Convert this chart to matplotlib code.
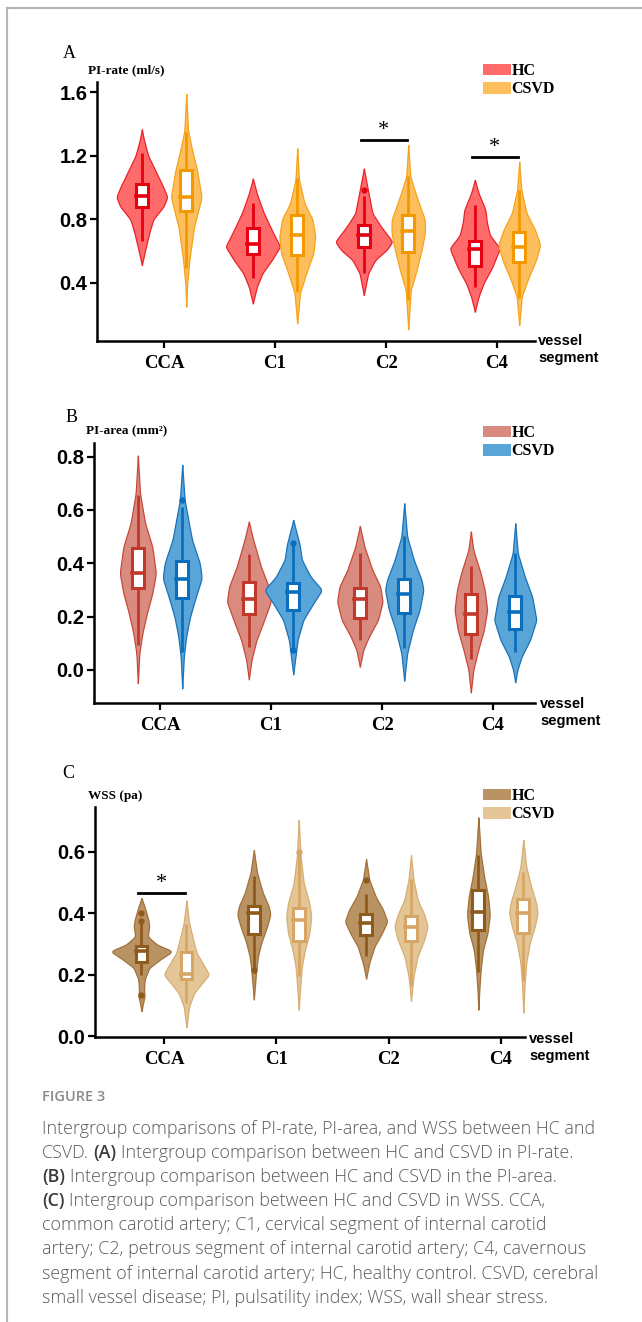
import numpy as np
import matplotlib
matplotlib.use("Agg")
import matplotlib.pyplot as plt
from matplotlib.patches import Rectangle, Patch
from matplotlib.lines import Line2D

# ---- data ----
CATS = ["CCA", "C1", "C2", "C4"]
GROUPS = ["HC", "CSVD"]

# boxes: [whisker low, q1, median, q3, whisker high]
A_HC_BOX = [[0.66, 0.88, 0.947, 1.023, 1.22], [0.428, 0.582, 0.645, 0.747, 0.90],
            [0.46, 0.628, 0.70, 0.764, 0.947], [0.376, 0.506, 0.611, 0.663, 0.888]]
A_CSVD_BOX = [[0.49, 0.853, 0.943, 1.111, 1.35], [0.344, 0.575, 0.70, 0.827, 1.058],
              [0.292, 0.592, 0.729, 0.827, 1.073], [0.302, 0.533, 0.628, 0.722, 0.985]]
B_HC_BOX = [[0.094, 0.309, 0.3625, 0.456, 0.656], [0.0875, 0.209, 0.265, 0.331, 0.434],
            [0.1125, 0.196, 0.265, 0.306, 0.4375], [0.04, 0.134, 0.21, 0.284, 0.39]]
B_CSVD_BOX = [[0.069, 0.269, 0.34, 0.41, 0.6125], [0.075, 0.225, 0.294, 0.325, 0.475],
              [0.081, 0.215, 0.285, 0.34, 0.5025], [0.069, 0.1525, 0.219, 0.279, 0.4375]]
C_HC_BOX = [[0.2, 0.24, 0.276, 0.292, 0.376], [0.205, 0.332, 0.40, 0.422, 0.519],
            [0.26, 0.328, 0.368, 0.397, 0.462], [0.208, 0.344, 0.405, 0.474, 0.589]]
C_CSVD_BOX = [[0.108, 0.186, 0.202, 0.272, 0.365], [0.195, 0.308, 0.378, 0.418, 0.605],
              [0.162, 0.308, 0.354, 0.389, 0.51], [0.178, 0.335, 0.40, 0.445, 0.535]]

# outlier dots
A_HC_OUT = [[], [], [0.985], []]
A_CSVD_OUT = [[], [], [], []]
B_HC_OUT = [[], [], [], []]
B_CSVD_OUT = [[0.6375], [0.475, 0.075], [], []]
C_HC_OUT = [[0.40, 0.375, 0.135], [0.215], [0.508], []]
C_CSVD_OUT = [[], [0.60], [], []]

# violin outlines: y knots and relative half-widths
A_HC_Y = [[0.512, 0.62, 0.72, 0.80, 0.88, 0.94, 1.00, 1.10, 1.20, 1.30, 1.367],
          [0.27, 0.376, 0.46, 0.544, 0.628, 0.73, 0.84, 0.96, 1.056],
          [0.323, 0.46, 0.544, 0.607, 0.659, 0.754, 0.838, 1.006, 1.12],
          [0.218, 0.313, 0.397, 0.50, 0.617, 0.70, 0.78, 0.86, 0.964, 1.048]]
A_HC_W = [[0, 0.15, 0.3, 0.45, 0.85, 1.0, 0.85, 0.55, 0.25, 0.08, 0],
          [0, 0.15, 0.35, 0.7, 1.0, 0.7, 0.4, 0.15, 0],
          [0, 0.15, 0.4, 0.8, 1.0, 0.6, 0.3, 0.12, 0],
          [0, 0.15, 0.35, 0.7, 1.0, 0.6, 0.48, 0.42, 0.15, 0]]
A_CSVD_Y = [[0.25, 0.38, 0.54, 0.75, 0.94, 1.11, 1.25, 1.36, 1.59],
            [0.144, 0.334, 0.46, 0.586, 0.69, 0.80, 0.90, 1.048, 1.247],
            [0.107, 0.355, 0.46, 0.607, 0.712, 0.796, 0.943, 1.07, 1.268],
            [0.134, 0.313, 0.418, 0.544, 0.638, 0.733, 0.838, 0.985, 1.163]]
A_CSVD_W = [[0, 0.05, 0.2, 0.5, 1.0, 0.7, 0.35, 0.12, 0],
            [0, 0.15, 0.5, 0.9, 1.0, 0.85, 0.4, 0.1, 0],
            [0, 0.15, 0.45, 0.8, 1.0, 1.0, 0.5, 0.12, 0],
            [0, 0.12, 0.4, 0.8, 1.0, 0.75, 0.35, 0.1, 0]]
B_HC_Y = [[-0.05, 0.0625, 0.1375, 0.2125, 0.2875, 0.3625, 0.4625, 0.55, 0.662, 0.804],
          [-0.035, 0.0375, 0.1125, 0.1875, 0.256, 0.3125, 0.3875, 0.4875, 0.556],
          [0.0125, 0.075, 0.125, 0.1875, 0.256, 0.3125, 0.375, 0.4625, 0.54],
          [-0.084, 0.0, 0.075, 0.15, 0.225, 0.3, 0.3625, 0.45, 0.519]]
B_HC_W = [[0, 0.08, 0.25, 0.5, 0.8, 1.0, 0.8, 0.4, 0.12, 0],
          [0, 0.12, 0.35, 0.7, 1.0, 0.9, 0.55, 0.2, 0],
          [0, 0.15, 0.4, 0.8, 1.0, 0.9, 0.55, 0.2, 0],
          [0, 0.15, 0.45, 0.8, 1.0, 0.85, 0.6, 0.15, 0]]
B_CSVD_Y = [[-0.069, 0.05, 0.125, 0.2, 0.275, 0.344, 0.40, 0.4875, 0.6375, 0.769],
            [-0.016, 0.1125, 0.1875, 0.25, 0.30, 0.35, 0.4125, 0.47, 0.5625],
            [-0.04, 0.0625, 0.15, 0.225, 0.30, 0.3375, 0.4125, 0.50, 0.625],
            [-0.046, 0.0, 0.05, 0.1125, 0.1875, 0.275, 0.35, 0.4375, 0.55]]
B_CSVD_W = [[0, 0.08, 0.2, 0.4, 0.7, 1.0, 0.9, 0.5, 0.12, 0],
            [0, 0.15, 0.35, 0.7, 1.0, 0.6, 0.3, 0.22, 0],
            [0, 0.15, 0.45, 0.8, 1.0, 0.9, 0.5, 0.15, 0],
            [0, 0.1, 0.3, 0.7, 1.0, 0.8, 0.45, 0.12, 0]]
C_HC_Y = [[0.081, 0.108, 0.13, 0.151, 0.184, 0.222, 0.249, 0.276, 0.297, 0.324, 0.357, 0.378, 0.42, 0.449],
          [0.119, 0.184, 0.216, 0.26, 0.303, 0.357, 0.395, 0.422, 0.465, 0.53, 0.605],
          [0.187, 0.238, 0.292, 0.335, 0.373, 0.411, 0.454, 0.508, 0.576],
          [0.086, 0.151, 0.216, 0.281, 0.335, 0.395, 0.454, 0.519, 0.595, 0.711]]
C_HC_W = [[0, 0.05, 0.1, 0.08, 0.1, 0.25, 0.6, 1.0, 0.5, 0.2, 0.25, 0.22, 0.1, 0],
          [0, 0.1, 0.15, 0.25, 0.45, 0.8, 1.0, 0.9, 0.55, 0.2, 0],
          [0, 0.15, 0.4, 0.75, 1.0, 0.8, 0.45, 0.15, 0],
          [0, 0.08, 0.2, 0.4, 0.8, 1.0, 0.85, 0.5, 0.2, 0]]
C_CSVD_Y = [[0.029, 0.097, 0.141, 0.173, 0.2, 0.227, 0.27, 0.313, 0.368, 0.441],
            [0.086, 0.162, 0.227, 0.281, 0.335, 0.389, 0.432, 0.497, 0.584, 0.703],
            [0.114, 0.195, 0.26, 0.314, 0.357, 0.395, 0.443, 0.508, 0.589],
            [0.076, 0.162, 0.238, 0.303, 0.357, 0.40, 0.432, 0.486, 0.551, 0.638]]
C_CSVD_W = [[0, 0.12, 0.35, 0.7, 1.0, 0.8, 0.45, 0.3, 0.12, 0],
            [0, 0.12, 0.25, 0.5, 0.85, 1.0, 0.85, 0.4, 0.15, 0],
            [0, 0.15, 0.4, 0.8, 1.0, 0.8, 0.4, 0.15, 0],
            [0, 0.08, 0.2, 0.45, 0.8, 1.0, 0.9, 0.55, 0.2, 0]]

# full violin widths (category units)
A_HC_SIZE = [0.45, 0.48, 0.50, 0.44]
A_CSVD_SIZE = [0.27, 0.32, 0.30, 0.37]
B_HC_SIZE = [0.32, 0.39, 0.405, 0.29]
B_CSVD_SIZE = [0.345, 0.50, 0.34, 0.375]
C_HC_SIZE = [0.52, 0.29, 0.37, 0.20]
C_CSVD_SIZE = [0.39, 0.22, 0.29, 0.25]

# significance marks: (category index, bar height)
A_SIG = [(2, 1.30), (3, 1.195)]
B_SIG = []
C_SIG = [(0, 0.465)]

SERIF = "Liberation Serif"
SANS = "Liberation Sans"
W, H = 642, 1322

fig = plt.figure(figsize=(W / 100, H / 100), dpi=100)


def fx(px):
    return px / W


def fy(py):
    return 1 - py / H


def outline(ys, ws):
    grid = np.linspace(ys[0], ys[-1], 400)
    w = np.interp(grid, ys, ws)
    k = np.hanning(25)
    k /= k.sum()
    w = np.convolve(np.pad(w, 12), k, mode="valid")
    return grid, w / w.max()


def panel(rect, xlim, ylim, yticks, ylabels, data, colors, sig, letter, ylab, letter_pos,
          ylab_pos, legend_pos, vessel_pos):
    ax = fig.add_axes(rect)
    for gi, (vy, vw, size, box, outs) in enumerate(data):
        fill, edge, bcol = colors[gi]
        off = -0.2 if gi == 0 else 0.2
        for ci in range(len(CATS)):
            x = ci + off
            g, w = outline(vy[ci], vw[ci])
            half = size[ci] / 2 * w
            ax.fill_betweenx(g, x - half, x + half, facecolor=fill, edgecolor=edge,
                             linewidth=0.9, zorder=2 + gi, clip_on=False)
            lo, q1, med, q3, hi = box[ci]
            ax.plot([x, x], [lo, hi], color=bcol, lw=2.0, zorder=4 + gi,
                    solid_capstyle="butt", clip_on=False)
            bw = 0.105
            ax.add_patch(Rectangle((x - bw / 2, q1), bw, q3 - q1, facecolor="white",
                                   edgecolor=bcol, lw=2.2, zorder=5 + gi, clip_on=False))
            ax.plot([x - bw / 2, x + bw / 2], [med, med], color=bcol, lw=2.6, zorder=6 + gi,
                    clip_on=False)
            for o in outs[ci]:
                ax.plot(x, o, "o", ms=3.5, color=bcol, zorder=6 + gi, clip_on=False)
    for ci, yb in sig:
        ax.plot([ci - 0.23, ci + 0.19], [yb, yb], color="black", lw=2.0, zorder=8)
        ax.text(ci - 0.02, yb, "*", ha="center", va="bottom", fontsize=16,
                family=SERIF, zorder=8)

    ax.set_xlim(*xlim)
    ax.set_ylim(*ylim)
    ax.set_xticks(range(len(CATS)))
    ax.set_xticklabels(CATS, family=SERIF, fontweight="bold", fontsize=13.5)
    ax.set_yticks(yticks)
    ax.set_yticklabels(ylabels, family=SANS, fontweight="bold", fontsize=14.5)
    for s in ["top", "right"]:
        ax.spines[s].set_visible(False)
    for s in ["left", "bottom"]:
        ax.spines[s].set_linewidth(1.8)
    ax.tick_params(axis="both", direction="out", length=5, width=1.6, pad=2)
    ax.tick_params(axis="x", pad=5)

    fig.text(fx(letter_pos[0]), fy(letter_pos[1]), letter, family=SERIF, fontsize=13,
             ha="left", va="center")
    fig.text(fx(ylab_pos[0]), fy(ylab_pos[1]), ylab, family=SERIF, fontweight="bold",
             fontsize=9.5, ha="left", va="center")
    fig.text(fx(vessel_pos[0]), fy(vessel_pos[1]), "vessel\nsegment", family=SANS,
             fontweight="bold", fontsize=10.5, ha="left", va="top", linespacing=1.3)
    handles = [Patch(facecolor=colors[i][0], edgecolor="none") for i in range(2)]
    ax.legend(handles, GROUPS, loc="upper left", bbox_to_anchor=(fx(legend_pos[0]), fy(legend_pos[1])),
              bbox_transform=fig.transFigure, frameon=False, borderpad=0, borderaxespad=0,
              handlelength=1.75, handleheight=0.75, handletextpad=0.05, labelspacing=0.15,
              prop={"family": SERIF, "weight": "bold", "size": 11.5})
    return ax


A_COLORS = [("#FF6B6B", "#E8232B", "#E60012"), ("#FDBF5E", "#F5A31A", "#F39800")]
B_COLORS = [("#D98B80", "#C8493A", "#C0392B"), ("#5AA5D8", "#1A72B8", "#0A6EBD")]
C_COLORS = [("#B99364", "#A07239", "#8E5B1C"), ("#E3C597", "#D8AE72", "#D6A666")]

panel([fx(97), fy(341), fx(535 - 97), (341 - 82) / H], (-0.604, 3.342), (0.033, 1.665),
      [0.4, 0.8, 1.2, 1.6], ["0.4", "0.8", "1.2", "1.6"],
      [(A_HC_Y, A_HC_W, A_HC_SIZE, A_HC_BOX, A_HC_OUT),
       (A_CSVD_Y, A_CSVD_W, A_CSVD_SIZE, A_CSVD_BOX, A_CSVD_OUT)],
      A_COLORS, A_SIG, "A", "PI-rate (ml/s)", (63, 53), (88, 70), (483, 63), (538, 334))

panel([fx(94), fy(703), fx(535 - 94), (703 - 443) / H], (-0.595, 3.378), (-0.124, 0.851),
      [0.0, 0.2, 0.4, 0.6, 0.8], ["0.0", "0.2", "0.4", "0.6", "0.8"],
      [(B_HC_Y, B_HC_W, B_HC_SIZE, B_HC_BOX, B_HC_OUT),
       (B_CSVD_Y, B_CSVD_W, B_CSVD_SIZE, B_CSVD_BOX, B_CSVD_OUT)],
      B_COLORS, B_SIG, "B", "PI-area (mm²)", (66, 417), (86, 431), (483, 425), (540, 697))

panel([fx(95), fy(1037), fx(525 - 95), (1037 - 807) / H], (-0.614, 3.215), (-0.003, 0.745),
      [0.0, 0.2, 0.4, 0.6], ["0.0", "0.2", "0.4", "0.6"],
      [(C_HC_Y, C_HC_W, C_HC_SIZE, C_HC_BOX, C_HC_OUT),
       (C_CSVD_Y, C_CSVD_W, C_CSVD_SIZE, C_CSVD_BOX, C_CSVD_OUT)],
      C_COLORS, C_SIG, "C", "WSS (pa)", (62, 774), (88, 796), (483, 788), (529, 1032))

# page frame
fig.add_artist(Line2D([fx(7), 1], [fy(8), fy(8)], color="#b5b5b5", lw=1.5))
fig.add_artist(Line2D([fx(7), fx(7)], [fy(8), 0], color="#b5b5b5", lw=1.5))

# caption
fig.text(fx(42), fy(1097), "FIGURE 3", family="Open Sans", fontweight="semibold",
         fontsize=10.5, color="#8a8a8a", ha="left", va="center")

CAPTION = [
    [("Intergroup comparisons of PI-rate, PI-area, and WSS between HC and", False)],
    [("CSVD.", False), ("(A)", True), ("Intergroup comparison between HC and CSVD in PI-rate.", False)],
    [("(B)", True), ("Intergroup comparison between HC and CSVD in the PI-area.", False)],
    [("(C)", True), ("Intergroup comparison between HC and CSVD in WSS. CCA,", False)],
    [("common carotid artery; C1, cervical segment of internal carotid", False)],
    [("artery; C2, petrous segment of internal carotid artery; C4, cavernous", False)],
    [("segment of internal carotid artery; HC, healthy control. CSVD, cerebral", False)],
    [("small vessel disease; PI, pulsatility index; WSS, wall shear stress.", False)],
]
renderer = fig.canvas.get_renderer()
cap_kw = dict(family="Open Sans", fontsize=12.9, ha="left", va="center")
t1 = fig.text(0, 0, "x x", **cap_kw)
t2 = fig.text(0, 0, "xx", **cap_kw)
space = t1.get_window_extent(renderer).width - t2.get_window_extent(renderer).width
t1.remove()
t2.remove()
for li, segs in enumerate(CAPTION):
    xpix = 42
    for s, bold in segs:
        t = fig.text(fx(xpix), fy(1129 + 24.1 * li), s, fontweight="semibold" if bold else "light",
                     color="#3c3c3c" if bold else "#5a5a5a", **cap_kw)
        xpix = t.get_window_extent(renderer).x1 + space

fig.savefig("out.png", dpi=100)
